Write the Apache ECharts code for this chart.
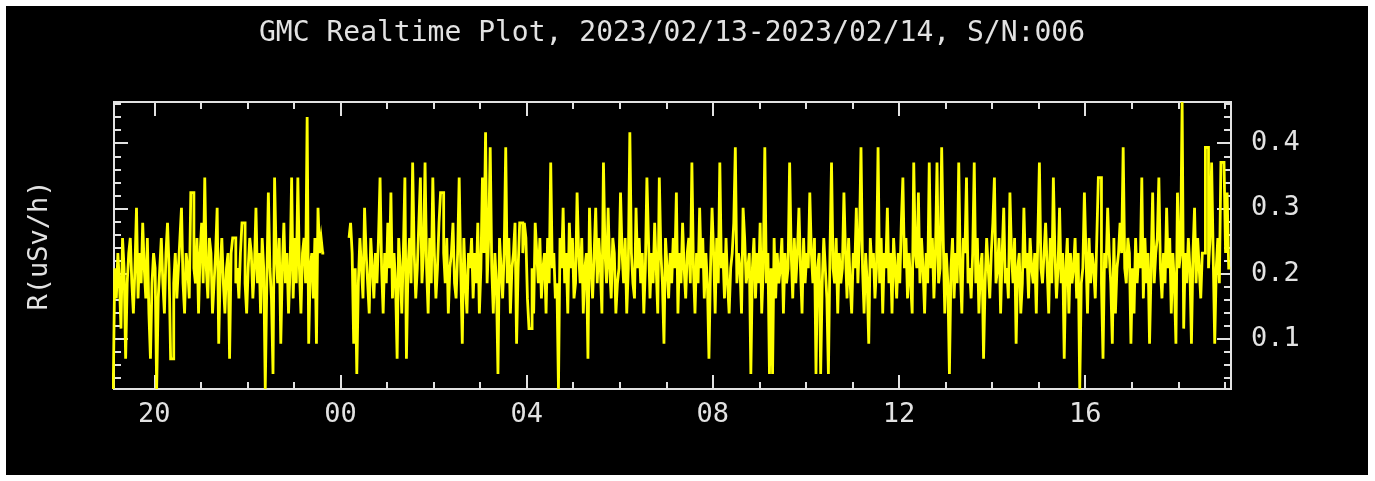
<!DOCTYPE html>
<html><head><meta charset="utf-8">
<script src="https://cdn.jsdelivr.net/npm/echarts@6/dist/echarts.min.js"></script>
<style>
html,body{margin:0;padding:0;background:#fff;width:1375px;height:481px;overflow:hidden}
#c{position:absolute;left:6px;top:6px;width:1362px;height:469px;background:#000}
</style>
</head><body><div id="c"></div>
<script>
// ---- data ----
const TITLE = 'GMC Realtime Plot, 2023/02/13-2023/02/14, S/N:006';
const Y_NAME = 'R(uSv/h)';
const USV_PER_COUNT = 0.02316;          // dose-rate per count level
const BIN_HOURS = 2 / 60;               // 2-minute samples
const SEG1_START = 19 + 8 / 60;         // hours since 2023/02/13 00:00
const SEG1 = [
1,9,7,10,8,5,11,9,3,8,
10,11,8,6,9,13,7,10,8,12,
9,7,11,6,3,8,10,9,1,7,
9,11,8,6,10,12,9,3,3,8,
10,7,9,11,13,8,6,10,9,7,
14,14,9,8,11,6,10,12,8,15,
9,7,11,10,6,8,10,13,4,9,
11,8,6,9,10,3,10,11,11,8,
9,7,10,12,12,8,6,9,11,10,
7,9,13,8,10,6,11,9,1,8,
14,9,7,2,15,10,8,11,4,9,
12,8,10,6,9,15,7,11,8,15,
9,6,10,11,8,19,4,9,10,7,
11,4,13,10,11,10
];
const SEG2_START = 24 + 12 / 60;
const SEG2 = [
11,12,10,4,9,2,8,11,
9,7,13,10,8,6,11,9,7,10,
8,11,15,9,6,10,8,12,9,14,
7,10,8,3,11,9,6,10,15,3,
9,11,8,16,10,7,9,12,15,8,
10,16,9,6,11,8,15,10,7,9,
12,14,14,10,8,11,6,9,10,12,
8,7,10,15,9,4,11,8,6,10,
9,11,7,10,8,12,6,9,15,10,
18,8,11,17,9,6,10,8,2,11,
9,7,10,17,8,11,6,9,10,12,
4,9,12,12,10,12,11,7,5,5,
9,6,12,10,8,11,7,9,10,6,
11,8,16,9,10,7,8,1,11,9,
13,8,10,6,12,9,11,7,8,14,
10,8,11,6,9,10,3,13,9,7,
10,13,8,11,9,6,16,10,8,13,
9,7,11,10,6,8,9,14,10,8,
11,6,9,18,10,8,7,13,9,11,
8,10,6,9,15,11,7,10,8,12,
9,6,15,10,8,4,11,9,7,10,
8,11,9,14,6,10,8,12,9,7,
10,11,8,16,9,6,10,8,13,9,
11,7,10,8,3,9,13,10,6,11,
8,16,9,10,7,11,8,6,9,10,
12,17,8,10,9,6,13,11,8,9,
10,2,9,11,7,10,8,12,6,9,
17,8,10,2,9,2,11,7,10,8,
9,11,6,10,8,9,16,10,7,11,
8,10,13,9,6,11,8,10,9,14,
10,8,11,2,9,10,2,8,11,9,
7,2,10,16,9,8,11,6,10,8,
9,14,10,7,11,8,6,10,9,13,
8,11,17,9,6,10,8,4,11,9,
10,7,9,17,8,11,6,10,9,13,
8,10,6,11,9,7,10,8,12,15,
9,11,7,10,8,6,16,10,9,14,
8,11,9,6,10,8,16,9,11,7,
10,16,8,9,17,11,6,10,8,2,
9,11,7,10,8,16,9,6,11,10,
15,8,9,7,10,16,8,11,6,9,
10,3,8,11,9,7,10,12,15,8,
9,11,6,10,13,8,9,7,14,10,
8,11,4,9,10,6,8,13,9,10,
7,11,9,8,10,6,11,16,9,8,
10,12,9,6,11,8,15,10,7,9,
13,8,10,3,9,11,6,10,8,9,
11,7,10,1,8,9,14,10,6,11,
8,10,9,7,11,15,15,8,3,10,
9,13,10,8,4,11,6,9,10,12,
10,17,9,8,11,10,4,9,6,11,
8,10,9,15,7,11,8,10,4,9,
14,8,10,11,15,9,7,10,8,13,
9,11,6,10,8,4,14,9,10,20,
5,10,8,11,9,4,10,13,8,11,
9,7,10,10,17,17,9,11,16,10,
4,9,11,8,16,16,16,10,14,9
];
const X_MIN = 19 + 8 / 60;
const X_MAX = 43 + 8 / 60;
const HOUR_TICKS = [20,21,22,23,24,25,26,27,28,29,30,31,32,33,34,35,36,37,38,39,40,41,42,43];
const LABEL_HOURS = [20,24,28,32,36,40];
const LABEL_TEXTS = ['20','00','04','08','12','16'];
const Y_MIN = 0.0232, Y_MAX = 0.4632;
const Y_MINOR = [0.04,0.06,0.08,0.10,0.12,0.14,0.16,0.18,0.20,0.22,0.24,0.26,0.28,0.30,0.32,0.34,0.36,0.38,0.40,0.42,0.44,0.46];
const Y_MAJOR = [0.1,0.2,0.3,0.4];
const Y_LABELS = ['0.1','0.2','0.3','0.4'];

// ---- build histogram-style (psym=10) series: each sample spans its own bin ----
function histo(start, counts) {
  const out = [];
  counts.forEach((c, i) => {
    const t = start + i * BIN_HOURS, v = c * USV_PER_COUNT;
    out.push([t - BIN_HOURS / 2, v], [t + BIN_HOURS / 2, v]);
  });
  return out;
}
const pts1 = histo(SEG1_START, SEG1);
const pts2 = histo(SEG2_START, SEG2);

const FG = '#e2e2e2';
const FONT = 'DejaVu Sans Mono';
const lineStyle = { color: FG, width: 2 };

function xAx(pos, ticks, len, labels) {
  return {
    type: 'value', position: pos, min: X_MIN, max: X_MAX,
    axisLine: { show: true, onZero: false, lineStyle },
    axisTick: { show: true, inside: true, length: len, customValues: ticks, lineStyle },
    axisLabel: labels ? {
      show: true, customValues: LABEL_HOURS, margin: 12,
      color: FG, fontFamily: FONT, fontSize: 27,
      formatter: v => LABEL_TEXTS[LABEL_HOURS.indexOf(Math.round(v))]
    } : { show: false },
    splitLine: { show: false }
  };
}
function yAx(pos, ticks, len, labels, name) {
  const a = {
    type: 'value', position: pos, min: Y_MIN, max: Y_MAX,
    axisLine: { show: true, onZero: false, lineStyle },
    axisTick: { show: true, inside: true, length: len, customValues: ticks, lineStyle },
    axisLabel: labels ? {
      show: true, customValues: Y_MAJOR, margin: 20,
      color: FG, fontFamily: FONT, fontSize: 27,
      formatter: v => Y_LABELS[Y_MAJOR.findIndex(m => Math.abs(m - v) < 1e-6)]
    } : { show: false },
    splitLine: { show: false }
  };
  if (name) {
    Object.assign(a, {
      name, nameLocation: 'middle', nameRotate: 90, nameGap: 61,
      nameTextStyle: { color: FG, fontFamily: FONT, fontSize: 27 }
    });
  }
  return a;
}
const seriesBase = {
  type: 'line', xAxisIndex: 0, yAxisIndex: 0,
  showSymbol: false, symbol: 'none', clip: true,
  lineStyle: { color: '#ffff00', width: 2.8, join: 'miter', cap: 'butt' },
  emphasis: { disabled: true }
};

const chart = echarts.init(document.getElementById('c'), null, { renderer: 'canvas' });
chart.setOption({
  backgroundColor: '#000',
  animation: false,
  title: {
    text: TITLE, left: 661, top: 9, textAlign: 'center',
    textStyle: { color: FG, fontFamily: FONT, fontSize: 28, fontWeight: 'normal' }
  },
  grid: { left: 108, top: 96, width: 1117, height: 287, containLabel: false },
  xAxis: [
    xAx('bottom', HOUR_TICKS, 7, false),
    xAx('bottom', LABEL_HOURS, 14, true),
    xAx('top', HOUR_TICKS, 7, false),
    xAx('top', LABEL_HOURS, 14, false)
  ],
  yAxis: [
    yAx('left', Y_MINOR, 7, false, Y_NAME),
    yAx('left', Y_MAJOR, 14, false),
    yAx('right', Y_MINOR, 7, false),
    yAx('right', Y_MAJOR, 14, true)
  ],
  series: [
    Object.assign({ data: pts1 }, seriesBase),
    Object.assign({ data: pts2 }, seriesBase)
  ]
});
</script></body></html>
